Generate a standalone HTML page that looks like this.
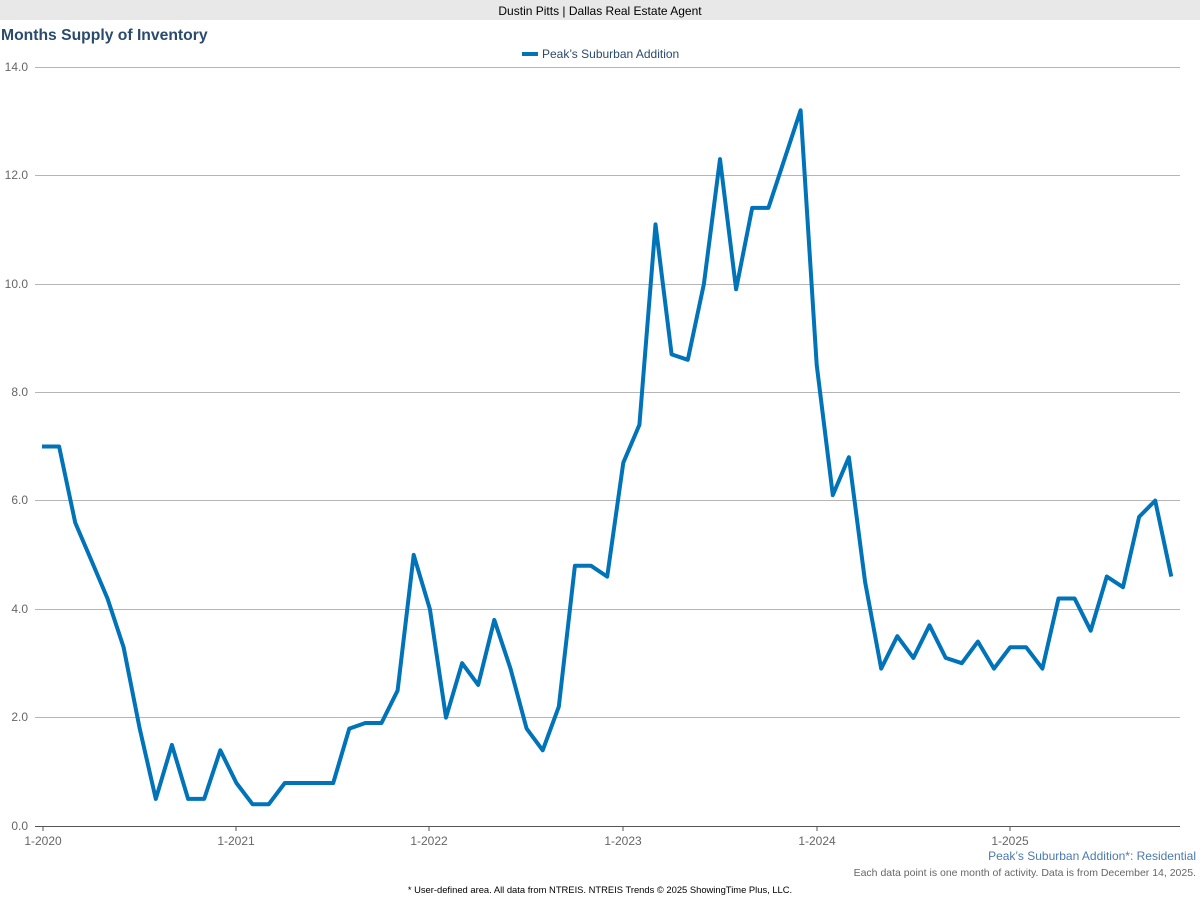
<!DOCTYPE html>
<html><head><meta charset="utf-8"><style>
body{margin:0;width:1200px;height:900px;background:#fff;font-family:"Liberation Sans",sans-serif;overflow:hidden}
</style></head><body>
<svg width="1200" height="900" xmlns="http://www.w3.org/2000/svg" font-family="Liberation Sans, sans-serif">
<rect x="0" y="0" width="1200" height="20" fill="#e8e8e8"/>
<text x="600" y="15" font-size="12" text-anchor="middle" fill="#000">Dustin Pitts | Dallas Real Estate Agent</text>
<text x="1" y="40" font-size="15.7" font-weight="bold" fill="#2a4a6e">Months Supply of Inventory</text>
<line x1="522" y1="54" x2="538" y2="54" stroke="#0073b9" stroke-width="4"/>
<text x="542" y="58" font-size="12" fill="#2a4a6e">Peak’s Suburban Addition</text>
<g stroke="#b5b5b5" stroke-width="1">
<line x1="35" y1="67.5" x2="1180" y2="67.5"/>
<line x1="35" y1="175.5" x2="1180" y2="175.5"/>
<line x1="35" y1="284.5" x2="1180" y2="284.5"/>
<line x1="35" y1="392.5" x2="1180" y2="392.5"/>
<line x1="35" y1="500.5" x2="1180" y2="500.5"/>
<line x1="35" y1="609.5" x2="1180" y2="609.5"/>
<line x1="35" y1="717.5" x2="1180" y2="717.5"/>
</g>
<line x1="35" y1="826.5" x2="1180" y2="826.5" stroke="#555" stroke-width="1"/>
<g stroke="#555"><line x1="43" y1="826" x2="43" y2="831"/><line x1="236" y1="826" x2="236" y2="831"/><line x1="429" y1="826" x2="429" y2="831"/><line x1="623" y1="826" x2="623" y2="831"/><line x1="817" y1="826" x2="817" y2="831"/><line x1="1010" y1="826" x2="1010" y2="831"/></g>
<g font-size="12" fill="#666" text-anchor="end">
<text x="28" y="71">14.0</text><text x="28" y="179">12.0</text><text x="28" y="288">10.0</text><text x="28" y="396">8.0</text><text x="28" y="504">6.0</text><text x="28" y="613">4.0</text><text x="28" y="721">2.0</text><text x="28" y="830">0.0</text>
</g>
<g font-size="12" fill="#666" text-anchor="middle">
<text x="43" y="845">1-2020</text><text x="236" y="845">1-2021</text><text x="429" y="845">1-2022</text><text x="623" y="845">1-2023</text><text x="817" y="845">1-2024</text><text x="1010" y="845">1-2025</text>
</g>
<polyline fill="none" stroke="#0073b9" stroke-width="4" stroke-linejoin="round" points="42.0,446.5 59.1,446.5 75.2,522.6 91.4,560.5 107.5,598.5 123.6,647.3 139.7,728.6 155.8,798.9 171.9,744.9 188.1,798.9 204.2,798.9 220.3,750.3 236.4,783.0 252.6,804.3 268.7,804.3 284.8,783.0 300.9,783.0 317.0,783.0 333.2,783.0 349.3,728.6 365.4,723.0 381.5,723.0 397.6,690.5 413.7,554.9 429.9,609.2 446.0,717.6 462.1,663.2 478.2,684.9 494.3,619.9 510.5,668.6 526.6,728.6 542.7,750.3 558.8,706.7 574.9,565.8 591.1,565.8 607.2,576.6 623.3,462.7 639.4,424.8 655.5,224.4 671.6,354.4 687.8,359.8 703.9,283.9 720.0,159.1 736.1,289.3 752.2,207.9 768.4,207.9 784.5,159.1 800.6,110.3 816.7,364.9 832.8,495.1 848.9,457.2 865.1,582.0 881.2,668.6 897.3,636.2 913.4,657.9 929.5,625.3 945.7,657.9 961.8,663.2 977.9,641.6 994.0,668.6 1010.1,647.3 1026.2,647.3 1042.4,668.6 1058.5,598.5 1074.6,598.5 1090.7,630.7 1106.8,576.6 1123.0,587.2 1139.1,516.9 1155.2,500.6 1171.3,576.6"/>
<text x="1196" y="860" font-size="12" fill="#4a7ab0" text-anchor="end">Peak’s Suburban Addition*: Residential</text>
<text x="1196" y="876" font-size="10.5" fill="#666" text-anchor="end">Each data point is one month of activity. Data is from December 14, 2025.</text>
<text x="600" y="893" font-size="9.4" fill="#000" text-anchor="middle">* User-defined area. All data from NTREIS. NTREIS Trends © 2025 ShowingTime Plus, LLC.</text>
</svg>
</body></html>
